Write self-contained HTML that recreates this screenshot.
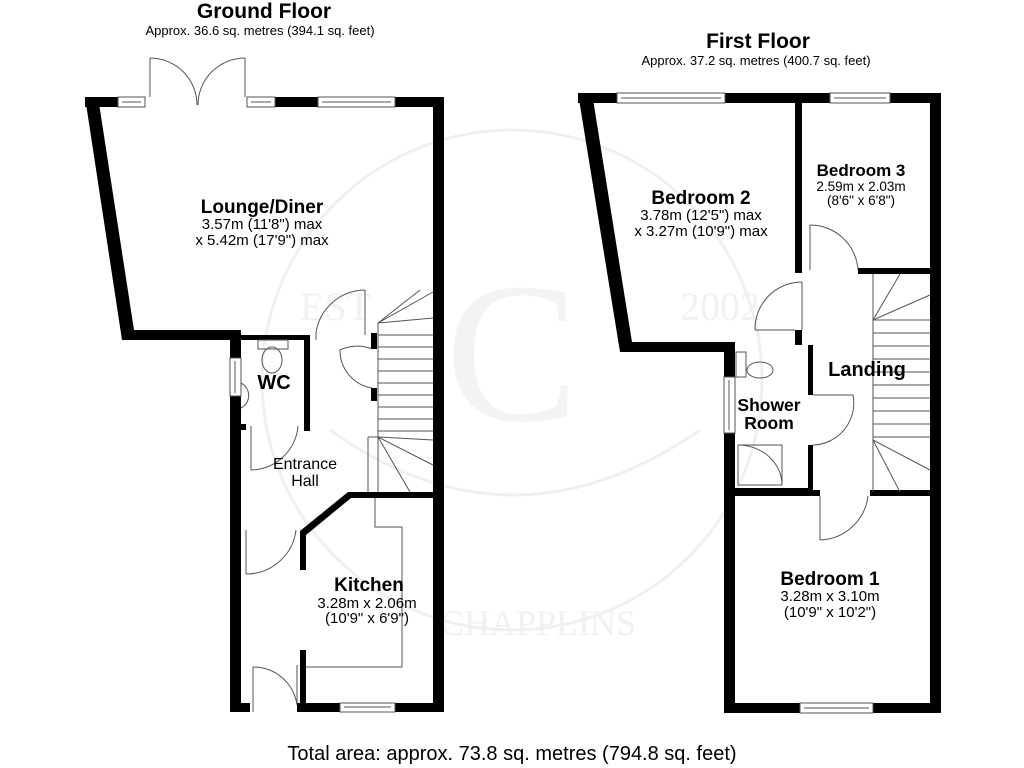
<!DOCTYPE html>
<html><head><meta charset="utf-8"><style>
html,body{margin:0;padding:0;background:#fff;}
svg{display:block;font-family:"Liberation Sans",Arial,sans-serif;}
</style></head><body>
<svg width="1024" height="768" viewBox="0 0 1024 768" xmlns="http://www.w3.org/2000/svg">
<!-- faint watermark -->
<g fill="none" stroke="#f0f0f0" stroke-width="3">
<circle cx="512" cy="380" r="250"/>
<path d="M330 430 Q512 560 700 430"/>
<text x="512" y="420" font-family="Liberation Serif" font-size="200" fill="#f3f3f3" stroke="none" text-anchor="middle">C</text>
<text x="300" y="320" font-family="Liberation Serif" font-size="40" fill="#f1f1f1" stroke="none">EST</text>
<text x="680" y="320" font-family="Liberation Serif" font-size="40" fill="#f1f1f1" stroke="none">2002</text>
<text x="440" y="635" font-family="Liberation Serif" font-size="36" fill="#f1f1f1" stroke="none">CHAPPLINS</text>
</g>

<!-- titles -->
<text x="264" y="18" font-size="21" font-weight="bold" text-anchor="middle">Ground Floor</text>
<text x="260" y="35" font-size="13" text-anchor="middle">Approx. 36.6 sq. metres (394.1 sq. feet)</text>
<text x="758" y="48" font-size="21" font-weight="bold" text-anchor="middle">First Floor</text>
<text x="756" y="65" font-size="13" text-anchor="middle">Approx. 37.2 sq. metres (400.7 sq. feet)</text>
<text x="512" y="760" font-size="20" text-anchor="middle">Total area: approx. 73.8 sq. metres (794.8 sq. feet)</text>

<!-- ===== GROUND FLOOR ===== -->
<g fill="#000">
<rect x="85" y="97" width="33" height="10"/>
<rect x="275" y="97" width="43" height="10"/>
<rect x="395" y="97" width="49" height="10"/>
<polygon points="85,97 98,97 134,330 122,340"/>
<rect x="122" y="330" width="118" height="10"/>
<rect x="230" y="330" width="11" height="28"/>
<rect x="230" y="396" width="11" height="316"/>
<rect x="230" y="703" width="20" height="9"/>
<rect x="297" y="703" width="43" height="9"/>
<rect x="395" y="703" width="49" height="9"/>
<rect x="433" y="97" width="11" height="615"/>
<rect x="304" y="335" width="6" height="96"/>
<rect x="241" y="335" width="64" height="5"/>
<rect x="241" y="424" width="5" height="6"/>
<rect x="371" y="333" width="6" height="16"/>
<rect x="371" y="388" width="6" height="13"/>
<polygon points="348,492 444,492 444,498 351,498 306,535 306,570 300,570 300,531"/>
<rect x="300" y="650" width="6" height="62"/>
</g>
<g fill="none" stroke="#555" stroke-width="1">
<rect x="118" y="97" width="27" height="10"/><line x1="122" y1="102" x2="141" y2="102"/>
<rect x="247" y="97" width="28" height="10"/><line x1="251" y1="102" x2="271" y2="102"/>
<rect x="318" y="97" width="77" height="10"/><line x1="322" y1="102" x2="391" y2="102"/>
<rect x="340" y="703" width="55" height="9"/><line x1="344" y1="707" x2="391" y2="707"/>
<rect x="230" y="358" width="11" height="38"/><line x1="235" y1="361" x2="235" y2="393"/>
<line x1="150" y1="97" x2="150" y2="58"/><path d="M150 58 A47 47 0 0 1 197 105"/>
<line x1="245" y1="97" x2="245" y2="58"/><path d="M245 58 A47 47 0 0 0 198 105"/>
<line x1="316" y1="333" x2="316" y2="340"/>
<path d="M316 333 A50 50 0 0 1 365 290"/><line x1="365" y1="290" x2="365" y2="335"/>
<path d="M372 349 A40 40 0 0 0 340 350 A38 38 0 0 0 372 388"/>
<line x1="251" y1="426" x2="251" y2="470"/><path d="M251 470 A48 48 0 0 0 298 426"/>
<line x1="246" y1="530" x2="246" y2="574"/><path d="M246 574 A50 50 0 0 0 296 530"/>
<line x1="253" y1="712" x2="253" y2="667"/><path d="M253 667 A44 44 0 0 1 297 705"/>
<line x1="297" y1="665" x2="297" y2="705"/>
<polyline points="375,498 375,527 402,527 402,667 306,667"/>
<rect x="258" y="340" width="30" height="9"/>
<ellipse cx="272" cy="360" rx="10" ry="13"/>
<path d="M241 383 A14 14 0 0 1 241 408"/>
<line x1="378" y1="323" x2="378" y2="492"/>
<line x1="368" y1="437" x2="368" y2="492"/>
<line x1="368" y1="437" x2="378" y2="437"/>
<line x1="378" y1="323" x2="433" y2="292"/>
<line x1="378" y1="323" x2="420" y2="290"/>
<line x1="378" y1="323" x2="433" y2="318"/>
<line x1="378" y1="437" x2="433" y2="465"/>
<line x1="378" y1="437" x2="410" y2="492"/>
<line x1="378" y1="437" x2="433" y2="440"/>
</g>
<g stroke="#555" stroke-width="1">
<line x1="378" y1="335" x2="433" y2="335"/><line x1="378" y1="347" x2="433" y2="347"/>
<line x1="378" y1="359" x2="433" y2="359"/><line x1="378" y1="371" x2="433" y2="371"/>
<line x1="378" y1="383" x2="433" y2="383"/><line x1="378" y1="395" x2="433" y2="395"/>
<line x1="378" y1="407" x2="433" y2="407"/><line x1="378" y1="419" x2="433" y2="419"/>
<line x1="378" y1="431" x2="433" y2="431"/>
</g>

<text x="262" y="213" font-size="19" font-weight="bold" text-anchor="middle">Lounge/Diner</text>
<text x="262" y="229" font-size="15" text-anchor="middle">3.57m (11'8") max</text>
<text x="262" y="245" font-size="15" text-anchor="middle">x 5.42m (17'9") max</text>
<text x="274" y="389" font-size="20" font-weight="bold" text-anchor="middle">WC</text>
<text x="305" y="469" font-size="16" text-anchor="middle">Entrance</text>
<text x="305" y="486" font-size="16" text-anchor="middle">Hall</text>
<text x="369" y="591" font-size="19" font-weight="bold" text-anchor="middle">Kitchen</text>
<text x="367" y="608" font-size="15" text-anchor="middle">3.28m x 2.06m</text>
<text x="367" y="623" font-size="15" text-anchor="middle">(10'9" x 6'9")</text>

<!-- ===== FIRST FLOOR ===== -->
<g fill="#000">
<rect x="578" y="93" width="39" height="10"/>
<rect x="725" y="93" width="105" height="10"/>
<rect x="890" y="93" width="51" height="10"/>
<polygon points="578,93 592,93 632,342 620,352"/>
<rect x="620" y="342" width="115" height="10"/>
<rect x="724" y="342" width="11" height="35"/>
<rect x="724" y="433" width="11" height="280"/>
<rect x="724" y="703" width="76" height="10"/>
<rect x="873" y="703" width="68" height="10"/>
<rect x="930" y="93" width="11" height="620"/>
<rect x="795" y="103" width="7" height="170"/>
<rect x="858" y="268" width="72" height="6"/>
<rect x="795" y="330" width="7" height="15"/>
<rect x="808" y="345" width="5" height="50"/>
<rect x="808" y="445" width="5" height="50"/>
<rect x="735" y="488" width="78" height="6"/>
<rect x="735" y="490" width="85" height="6"/>
<rect x="870" y="490" width="60" height="6"/>
</g>
<g fill="none" stroke="#555" stroke-width="1">
<rect x="617" y="93" width="108" height="10"/><line x1="621" y1="98" x2="721" y2="98"/>
<rect x="830" y="93" width="60" height="10"/><line x1="834" y1="98" x2="886" y2="98"/>
<rect x="800" y="703" width="73" height="10"/><line x1="804" y1="708" x2="869" y2="708"/>
<rect x="724" y="377" width="11" height="56"/><line x1="729" y1="380" x2="729" y2="430"/>
<line x1="810" y1="270" x2="810" y2="225"/><path d="M810 225 A48 48 0 0 1 858 270"/>
<line x1="802" y1="282" x2="802" y2="330"/><path d="M802 282 A47 47 0 0 0 755 330"/><line x1="755" y1="330" x2="795" y2="330"/>
<line x1="813" y1="395" x2="853" y2="395"/><path d="M853 395 A42 42 0 0 1 813 445"/>
<line x1="820" y1="496" x2="820" y2="540"/><path d="M820 540 A50 50 0 0 0 868 496"/>
<rect x="736" y="352" width="10" height="25"/><ellipse cx="760" cy="370" rx="13" ry="8"/>
<rect x="738" y="445" width="44" height="40"/><path d="M738 445 A44 40 0 0 1 782 485"/>
<line x1="873" y1="274" x2="873" y2="492"/>
<line x1="873" y1="320" x2="900" y2="274"/>
<line x1="873" y1="320" x2="930" y2="295"/>
<line x1="873" y1="320" x2="930" y2="320"/>
<line x1="873" y1="440" x2="930" y2="470"/>
<line x1="873" y1="440" x2="900" y2="492"/>
</g>
<g stroke="#555" stroke-width="1">
<line x1="873" y1="333" x2="930" y2="333"/><line x1="873" y1="346" x2="930" y2="346"/>
<line x1="873" y1="359" x2="930" y2="359"/><line x1="873" y1="372" x2="930" y2="372"/>
<line x1="873" y1="385" x2="930" y2="385"/><line x1="873" y1="398" x2="930" y2="398"/>
<line x1="873" y1="411" x2="930" y2="411"/><line x1="873" y1="424" x2="930" y2="424"/>
<line x1="873" y1="437" x2="930" y2="437"/>
</g>

<text x="701" y="204" font-size="19" font-weight="bold" text-anchor="middle">Bedroom 2</text>
<text x="701" y="220" font-size="15" text-anchor="middle">3.78m (12'5") max</text>
<text x="701" y="236" font-size="15" text-anchor="middle">x 3.27m (10'9") max</text>
<text x="861" y="176" font-size="17" font-weight="bold" text-anchor="middle">Bedroom 3</text>
<text x="861" y="191" font-size="13.5" text-anchor="middle">2.59m x 2.03m</text>
<text x="861" y="205" font-size="13.5" text-anchor="middle">(8'6" x 6'8")</text>
<text x="867" y="376" font-size="20" font-weight="bold" text-anchor="middle">Landing</text>
<text x="769" y="411" font-size="17.5" font-weight="bold" text-anchor="middle">Shower</text>
<text x="769" y="429" font-size="17.5" font-weight="bold" text-anchor="middle">Room</text>
<text x="830" y="585" font-size="19" font-weight="bold" text-anchor="middle">Bedroom 1</text>
<text x="830" y="601" font-size="15" text-anchor="middle">3.28m x 3.10m</text>
<text x="830" y="617" font-size="15" text-anchor="middle">(10'9" x 10'2")</text>
</svg>
</body></html>
